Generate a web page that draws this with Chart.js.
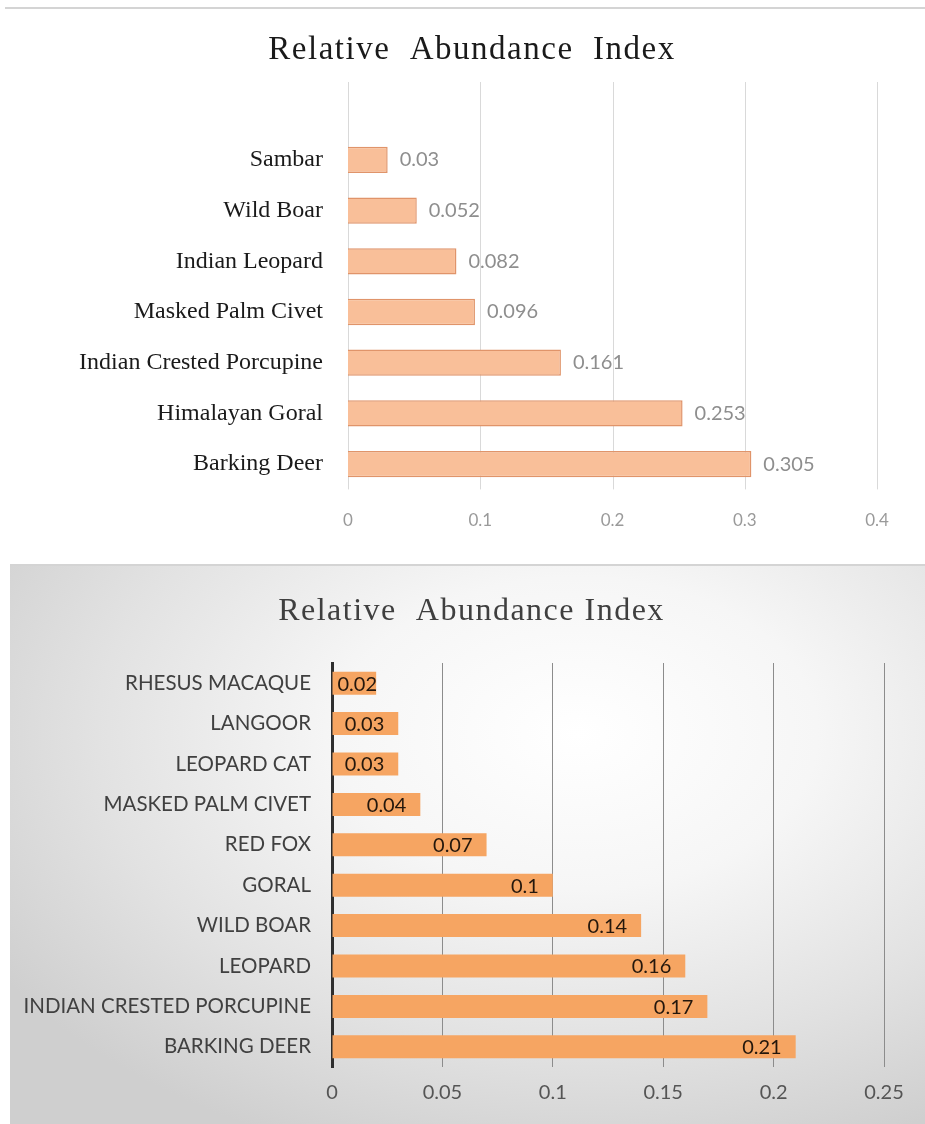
<!DOCTYPE html>
<html>
<head>
<meta charset="utf-8">
<script src="https://cdn.jsdelivr.net/npm/chart.js@4.4.1/dist/chart.umd.min.js"></script>
<style>
  html, body { margin: 0; padding: 0; background: #fff; }
  body { width: 925px; height: 1124px; position: relative; overflow: hidden; }
  .rule { position: absolute; height: 2px; background: #d4d4d4; }
  #box1 { position: absolute; left: 0; top: 12px; width: 925px; height: 540px; }
  #box2 {
    position: absolute; left: 10px; top: 566px; width: 915px; height: 558px;
    background: radial-gradient(ellipse 75% 80% at 62% 30%, #ffffff 0%, #f6f6f6 35%, #e2e2e2 70%, #cfcfcf 100%);
  }
</style>
</head>
<body>
<div class="rule" style="left:5px; top:7px; width:920px;"></div>
<div id="box1"><canvas id="chart1"></canvas></div>
<div class="rule" style="left:10px; top:564px; width:915px;"></div>
<div id="box2"><canvas id="chart2"></canvas></div>
<script>
// first survey
const speciesA = ['Sambar', 'Wild Boar', 'Indian Leopard', 'Masked Palm Civet',
  'Indian Crested Porcupine', 'Himalayan Goral', 'Barking Deer'];
const raiA = [0.03, 0.052, 0.082, 0.096, 0.161, 0.253, 0.305];
const ticksA = [0, 0.1, 0.2, 0.3, 0.4];

// second survey
const speciesB = ['RHESUS MACAQUE', 'LANGOOR', 'LEOPARD CAT', 'MASKED PALM CIVET', 'RED FOX',
  'GORAL', 'WILD BOAR', 'LEOPARD', 'INDIAN CRESTED PORCUPINE', 'BARKING DEER'];
const raiB = [0.02, 0.03, 0.03, 0.04, 0.07, 0.1, 0.14, 0.16, 0.17, 0.21];
const ticksB = [0, 0.05, 0.1, 0.15, 0.2, 0.25];

Chart.defaults.font.family = 'Lato';

// chart heading, drawn centred on a given x so the axis labels are not clipped
const headline = {
  id: 'headline',
  afterDraw(chart, args, opts) {
    const ctx = chart.ctx;
    ctx.save();
    ctx.font = opts.font;
    ctx.fillStyle = opts.color;
    ctx.letterSpacing = opts.spacing + 'px';
    ctx.textAlign = 'center';
    ctx.textBaseline = 'middle';
    ctx.fillText(opts.text, opts.x, opts.y);
    ctx.restore();
  }
};

// writes the value beside (or inside the end of) every bar
const valueLabels = {
  id: 'valueLabels',
  afterDatasetsDraw(chart, args, opts) {
    const ctx = chart.ctx;
    const meta = chart.getDatasetMeta(0);
    const vals = chart.data.datasets[0].data;
    ctx.save();
    ctx.font = opts.font;
    ctx.fillStyle = opts.color;
    ctx.textBaseline = 'middle';
    meta.data.forEach((bar, i) => {
      const txt = String(vals[i]);
      if (opts.inside) {
        ctx.textAlign = 'right';
        const w = ctx.measureText(txt).width;
        let x = bar.x - opts.offset;
        if (x - w < bar.base + 5) x = bar.base + 5 + w;
        ctx.fillText(txt, x, bar.y + 1);
      } else {
        ctx.textAlign = 'left';
        ctx.fillText(txt, bar.x + opts.offset, bar.y);
      }
    });
    ctx.restore();
  }
};

// vertical gridlines of the first chart, running up past the first bar
const tallGrid = {
  id: 'tallGrid',
  beforeDatasetsDraw(chart, args, opts) {
    const { ctx, chartArea, scales: { x } } = chart;
    ctx.save();
    ctx.strokeStyle = opts.color;
    ctx.lineWidth = 1;
    x.ticks.forEach(t => {
      const px = Math.round(x.getPixelForValue(t.value)) + 0.5;
      ctx.beginPath();
      ctx.moveTo(px, opts.top);
      ctx.lineTo(px, chartArea.bottom);
      ctx.stroke();
    });
    ctx.restore();
  }
};

new Chart(document.getElementById('chart1'), {
  type: 'bar',
  data: {
    labels: speciesA,
    datasets: [{
      data: raiA,
      backgroundColor: '#f9bf99',
      borderColor: '#e0946a',
      borderWidth: 1.5,
      barPercentage: 0.52,
      categoryPercentage: 1
    }]
  },
  options: {
    indexAxis: 'y',
    responsive: true,
    maintainAspectRatio: false,
    animation: false,
    layout: { padding: { left: 0, right: 48, top: 122.6, bottom: 0 } },
    plugins: {
      legend: { display: false },
      tooltip: { enabled: false },
      headline: { text: 'Relative  Abundance  Index', font: '33px "Liberation Serif"', color: '#1a1a1a', spacing: 1.5, x: 472, y: 38 },
      valueLabels: { font: '20px Lato', color: '#8e8e8e', offset: 12 },
      tallGrid: { top: 70, color: '#d9d9d9' }
    },
    scales: {
      x: {
        min: 0, max: 0.4,
        afterBuildTicks: s => { s.ticks = ticksA.map(v => ({ value: v })); },
        grid: { display: false },
        border: { display: false },
        ticks: { color: '#9a9a9a', font: { size: 17 }, padding: 13, callback: v => String(v) },
        afterFit: s => { s.height = 62.6; }
      },
      y: {
        grid: { display: false },
        border: { display: false },
        ticks: { color: '#1a1a1a', font: { family: 'Liberation Serif', size: 24 }, padding: 17, autoSkip: false },
        afterFit: s => { s.width = 348; }
      }
    }
  },
  plugins: [valueLabels, tallGrid, headline]
});

new Chart(document.getElementById('chart2'), {
  type: 'bar',
  data: {
    labels: speciesB,
    datasets: [{
      data: raiB,
      backgroundColor: '#f6a562',
      borderWidth: 0,
      barPercentage: 0.57,
      categoryPercentage: 1
    }]
  },
  options: {
    indexAxis: 'y',
    responsive: true,
    maintainAspectRatio: false,
    animation: false,
    layout: { padding: { left: 0, right: 41, top: 97, bottom: 0 } },
    plugins: {
      legend: { display: false },
      tooltip: { enabled: false },
      headline: { text: 'Relative  Abundance Index', font: '32px "Liberation Serif"', color: '#3f3f3f', spacing: 1.5, x: 461.5, y: 46 },
      valueLabels: { font: '20px Lato', color: '#24170c', offset: 14, inside: true }
    },
    scales: {
      x: {
        min: 0, max: 0.25,
        afterBuildTicks: s => { s.ticks = ticksB.map(v => ({ value: v })); },
        grid: { color: '#8c8c8c', drawTicks: false },
        border: { display: false },
        ticks: { color: '#555', font: { size: 20 }, padding: 14, callback: v => String(v) },
        afterFit: s => { s.height = 57; }
      },
      y: {
        grid: { display: false },
        border: { display: true, color: '#2e2e2e', width: 3 },
        ticks: { color: '#404040', font: { size: 20.5 }, padding: 13, autoSkip: false },
        afterFit: s => { s.width = 322; }
      }
    }
  },
  plugins: [valueLabels, headline]
});
</script>
</body>
</html>
